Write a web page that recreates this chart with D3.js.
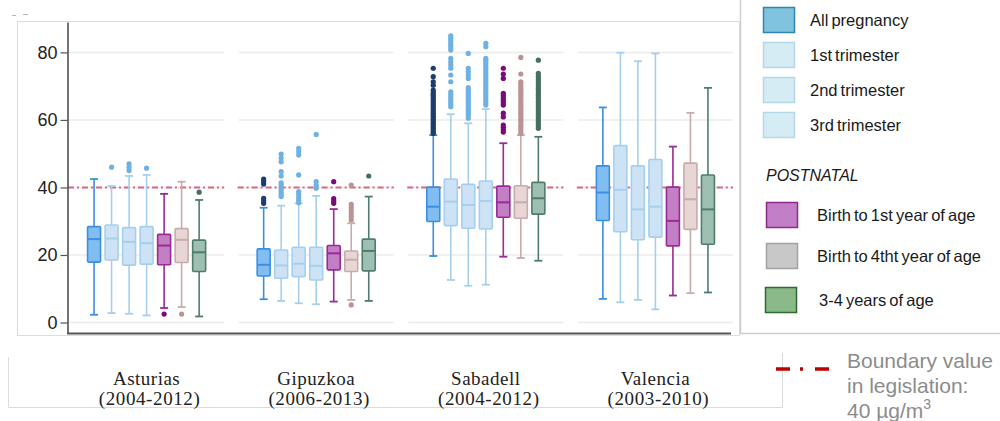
<!DOCTYPE html>
<html><head><meta charset="utf-8">
<script src="https://cdn.jsdelivr.net/npm/d3@7"></script>
<style>html,body{margin:0;padding:0;background:#fff;} svg{display:block;}</style>
</head><body>
<svg id="chart" width="1000" height="421"></svg>
<script>
// ---------------- DATA ----------------
const regions = ["Asturias", "Gipuzkoa", "Sabadell", "Valencia"];
const periods = ["(2004-2012)", "(2006-2013)", "(2004-2012)", "(2003-2010)"];
const seriesNames = ["All pregnancy", "1st trimester", "2nd trimester", "3rd trimester",
  "Birth to 1st year of age", "Birth to 4tht year of age", "3-4 years of age"];
const postnatalTitle = "POSTNATAL";
const yTicks = [0, 20, 40, 60, 80];
const limitValue = 40;
const limitLabel = ["Boundary value", "in legislation:", "40 µg/m"];

// [lower whisker, Q1, median, Q3, upper whisker] per series
const asturiasStats = [
  [2.3, 17.9, 24.7, 28.4, 42.5],
  [2.8, 18.5, 24.9, 28.9, 40.4],
  [2.6, 17.0, 23.9, 28.1, 43.4],
  [2.1, 17.3, 23.5, 28.4, 43.7],
  [4.3, 17.1, 22.8, 26.1, 38.1],
  [4.6, 17.8, 24.5, 27.8, 41.7],
  [1.8, 15.1, 20.8, 24.4, 36.3]
];
const gipuzkoaStats = [
  [6.9, 13.8, 17.1, 21.8, 34.0],
  [6.4, 13.1, 16.9, 21.5, 34.6],
  [5.7, 13.6, 17.4, 22.3, 35.3],
  [5.4, 12.6, 16.8, 22.3, 37.5],
  [6.2, 15.6, 20.5, 22.8, 33.6],
  [6.7, 15.1, 18.6, 21.2, 29.4],
  [6.4, 15.3, 21.2, 24.7, 37.3]
];
const sabadellStats = [
  [19.7, 29.9, 34.3, 40.1, 55.5],
  [12.6, 28.7, 35.8, 42.5, 61.7],
  [10.9, 27.9, 34.8, 40.9, 59.0],
  [11.2, 27.7, 36.0, 41.9, 63.2],
  [19.5, 31.2, 35.6, 40.4, 53.1],
  [19.1, 30.9, 35.6, 40.5, 55.5],
  [18.3, 32.1, 36.8, 41.5, 55.0]
];
const valenciaStats = [
  [7.0, 30.2, 38.5, 46.4, 63.7],
  [6.0, 26.9, 39.3, 52.4, 79.9],
  [6.7, 24.5, 33.5, 46.4, 77.4],
  [3.9, 25.3, 34.3, 48.3, 79.7],
  [8.0, 22.7, 30.1, 40.1, 52.1],
  [8.7, 27.6, 36.5, 47.2, 62.1],
  [8.9, 23.2, 33.5, 43.7, 69.5]
];

const asturiasOutliers = [[], [46.0], [45.0, 46.0, 47.0], [45.7], [2.5], [2.5], [38.6]];
const gipuzkoaOutliers = [
  [35.3, 36.0, 36.8, 41.0, 41.8, 42.5],
  [37.3, 38.0, 38.7, 39.4, 40.0, 40.7, 41.4, 43.4, 44.7, 47.6, 48.7, 49.9],
  [35.5, 36.2, 37.0, 38.0, 38.8, 43.7, 49.6, 50.6, 51.6],
  [39.8, 40.7, 41.7, 55.7],
  [35.3, 36.0, 36.7, 41.7],
  [30.4, 31.3, 32.2, 33.1, 34.0, 35.0, 40.7, 5.2],
  [43.4]
];
const sabadellOutliers = [
  [56.0, 56.6, 57.2, 57.8, 58.4, 59.0, 59.6, 60.2, 60.8, 61.4, 62.0, 62.6, 63.2, 63.8, 64.4, 65.0,
   65.6, 66.2, 66.8, 67.4, 68.0, 68.8, 70.3, 71.3, 72.8, 75.3],
  [63.9, 64.6, 65.3, 66.0, 66.7, 67.5, 68.3, 71.3, 73.3, 75.3, 76.3, 77.2, 78.2,
   80.7, 81.4, 82.1, 82.8, 83.5, 84.2, 84.9],
  [60.5, 61.2, 61.9, 62.6, 63.3, 64.0, 64.7, 65.4, 66.1, 66.8, 67.5, 68.2, 68.9, 69.6,
   72.3, 73.3, 74.3, 75.3, 79.7],
  [64.4, 65.1, 65.8, 66.5, 67.2, 67.9, 68.6, 69.3, 70.0, 70.7, 71.4, 72.1, 72.8, 73.5, 74.2,
   74.9, 75.6, 76.3, 77.0, 77.7, 78.2, 81.7, 82.7],
  [56.4, 57.1, 57.8, 58.5, 60.9, 62.0, 64.4, 65.1, 65.8, 66.5, 67.2, 67.9, 72.3, 73.6, 75.3],
  [56.0, 56.7, 57.4, 58.1, 58.8, 59.5, 60.2, 60.9, 61.6, 62.3, 63.0, 63.7, 64.4, 65.1, 65.8,
   66.5, 67.2, 67.9, 68.6, 69.3, 70.0, 70.7, 71.3, 73.6, 78.5],
  [57.5, 58.2, 58.9, 59.6, 60.3, 61.0, 61.7, 62.4, 63.1, 63.8, 64.5, 65.2, 65.9, 66.6, 67.3,
   68.0, 68.7, 69.4, 70.1, 70.8, 71.5, 72.2, 72.9, 73.8, 77.7]
];
const valenciaOutliers = [[], [], [], [], [], [], []];

const allStats = [asturiasStats, gipuzkoaStats, sabadellStats, valenciaStats];
const allOutliers = [asturiasOutliers, gipuzkoaOutliers, sabadellOutliers, valenciaOutliers];

// ---------------- STYLES ----------------
const boxFill   = ["#82bdf2", "#cde3f5", "#cde3f5", "#cde3f5", "#c27fc4", "#e8d5d5", "#9dc0b3"];
const boxStroke = ["#3b8fe3", "#a6cfee", "#a6cfee", "#a6cfee", "#992a97", "#c8abab", "#4e7d6c"];
const outColor  = ["#1c3d6e", "#6fb1e3", "#6fb1e3", "#6fb1e3", "#7a0a7b", "#bb9393", "#476f60"];
const legFill   = ["#7fc3df", "#d6ecf5", "#d6ecf5", "#d6ecf5", "#c27fc7", "#c8c8c8", "#8aba8a"];
const legStroke = ["#2c86b5", "#b3d9e9", "#b3d9e9", "#b3d9e9", "#8c2b8c", "#a3a3a3", "#2d6b2d"];

// ---------------- DRAW ----------------
const svg = d3.select("#chart");
const sans = "'Liberation Sans', Arial, sans-serif";

const y = d3.scaleLinear().domain([-3.1, 89]).range([333, 22]);
const xOuter = d3.scaleBand().domain(regions).range([69, 733]).paddingInner(0.085);
const bw = xOuter.bandwidth();
const xInner = d3.scaleBand().domain(d3.range(seriesNames.length)).range([0, bw])
  .paddingInner(0.26).paddingOuter(1.06);

// tiny marks top-left (cut-off title remnant)
svg.append("line").attr("x1", 12).attr("x2", 16).attr("y1", 15.5).attr("y2", 15.5).attr("stroke", "#b5b5b5");
svg.append("line").attr("x1", 23).attr("x2", 28).attr("y1", 14.5).attr("y2", 14.5).attr("stroke", "#b5b5b5");

// plot frame
svg.append("rect").attr("x", 17.5).attr("y", 21.5).attr("width", 722).attr("height", 314)
  .attr("fill", "none").attr("stroke", "#dcdcdc");

// gridlines per facet
regions.forEach(r => {
  svg.append("g").selectAll("line").data(yTicks).join("line")
    .attr("x1", xOuter(r)).attr("x2", xOuter(r) + bw)
    .attr("y1", d => y(d)).attr("y2", d => y(d))
    .attr("stroke", "#ececec").attr("stroke-width", 1.5);
});

// limit line per facet
regions.forEach(r => {
  svg.append("line")
    .attr("x1", xOuter(r) - 1).attr("x2", xOuter(r) + bw)
    .attr("y1", y(limitValue)).attr("y2", y(limitValue))
    .attr("stroke", "#e0647c").attr("stroke-width", 2)
    .attr("stroke-dasharray", "6,3,2,3");
});

// boxes
regions.forEach((r, ri) => {
  const g = svg.append("g").attr("transform", `translate(${xOuter(r)},0)`);
  allStats[ri].forEach((s, si) => {
    const [lo, q1, med, q3, hi] = s;
    const x0 = xInner(si), w = xInner.bandwidth(), cx = x0 + w / 2;
    const capW = 4;
    const sg = g.append("g");
    sg.append("line").attr("x1", cx).attr("x2", cx).attr("y1", y(lo)).attr("y2", y(q1))
      .attr("stroke", boxStroke[si]).attr("stroke-width", 1.6);
    sg.append("line").attr("x1", cx).attr("x2", cx).attr("y1", y(q3)).attr("y2", y(hi))
      .attr("stroke", boxStroke[si]).attr("stroke-width", 1.6);
    [lo, hi].forEach(v => sg.append("line").attr("x1", cx - capW).attr("x2", cx + capW)
      .attr("y1", y(v)).attr("y2", y(v)).attr("stroke", boxStroke[si]).attr("stroke-width", 1.8));
    sg.append("rect").attr("x", x0).attr("width", w).attr("y", y(q3)).attr("height", y(q1) - y(q3))
      .attr("fill", boxFill[si]).attr("stroke", boxStroke[si]).attr("stroke-width", 1.6).attr("rx", 1);
    sg.append("line").attr("x1", x0).attr("x2", x0 + w).attr("y1", y(med)).attr("y2", y(med))
      .attr("stroke", boxStroke[si]).attr("stroke-width", 2);
    sg.selectAll("circle").data(allOutliers[ri][si]).join("circle")
      .attr("cx", cx).attr("cy", d => y(d)).attr("r", 2.6).attr("fill", outColor[si]);
  });
});

// y axis
const yAxis = d3.axisLeft(y).tickValues(yTicks).tickSize(7).tickPadding(3).tickSizeOuter(0);
const ga = svg.append("g").attr("transform", "translate(67.5,0)").call(yAxis);
ga.select(".domain").attr("stroke", "#444").attr("stroke-width", 1.5);
ga.selectAll(".tick line").attr("stroke", "#555").attr("stroke-width", 1.2);
ga.selectAll(".tick text").attr("font-family", sans).attr("font-size", 18).attr("fill", "#222");

// bottom axis line
svg.append("line").attr("x1", 67).attr("x2", 731).attr("y1", 333.5).attr("y2", 333.5)
  .attr("stroke", "#555").attr("stroke-width", 2);

// x labels box
svg.append("path").attr("d", "M8.5,357 V407.5 H782.5 V353").attr("fill", "none").attr("stroke", "#dcdcdc");

// x labels
regions.forEach((r, i) => {
  const cx = xOuter(r) + bw / 2;
  const font = "'Liberation Serif', 'Times New Roman', serif";
  svg.append("text").attr("text-anchor", "middle").attr("font-family", font)
    .attr("font-size", 19).attr("letter-spacing", 0.5).attr("fill", "#222")
    .attr("x", cx).attr("y", 385).text(r);
  svg.append("text").attr("text-anchor", "middle").attr("font-family", font)
    .attr("font-size", 19).attr("letter-spacing", 0.6).attr("fill", "#222")
    .attr("x", cx + 3).attr("y", 405).text(periods[i]);
});

// legend frame
svg.append("path").attr("d", "M740.5,0 V333.5 H1000").attr("fill", "none").attr("stroke", "#cfcfcf").attr("stroke-width", 1.5);

// legend items
const legPos = [
  {x: 763, y: 7, tx: 810}, {x: 763, y: 42, tx: 810}, {x: 763, y: 77, tx: 810}, {x: 763, y: 112, tx: 810},
  {x: 766, y: 202, tx: 817}, {x: 766, y: 243, tx: 817}, {x: 765, y: 287, tx: 819}
];
seriesNames.forEach((name, i) => {
  const p = legPos[i];
  svg.append("rect").attr("x", p.x + 0.5).attr("y", p.y + 0.5).attr("width", 31).attr("height", 25)
    .attr("fill", legFill[i]).attr("stroke", legStroke[i]).attr("stroke-width", 1.5);
  svg.append("text").attr("x", p.tx).attr("y", p.y + 18.5).attr("font-family", sans)
    .attr("font-size", 16.5).attr("word-spacing", "-1.5").attr("fill", "#1a1a1a").text(name);
});
svg.append("text").attr("x", 766).attr("y", 181).attr("font-family", sans).attr("font-size", 16)
  .attr("font-style", "italic").attr("fill", "#1a1a1a").text(postnatalTitle);

// boundary legend
svg.append("line").attr("x1", 776).attr("x2", 829).attr("y1", 369).attr("y2", 369)
  .attr("stroke", "#c00000").attr("stroke-width", 3.5).attr("stroke-dasharray", "14,10,3,12,14");
const bt = svg.append("text").attr("font-family", sans).attr("font-size", 21).attr("fill", "#8c8c8c");
bt.append("tspan").attr("x", 847).attr("y", 368).text(limitLabel[0]);
bt.append("tspan").attr("x", 847).attr("y", 393).text(limitLabel[1]);
bt.append("tspan").attr("x", 847).attr("y", 418).text(limitLabel[2]);
bt.append("tspan").attr("font-size", 14).attr("dy", -9).text("3");
</script>
</body></html>
